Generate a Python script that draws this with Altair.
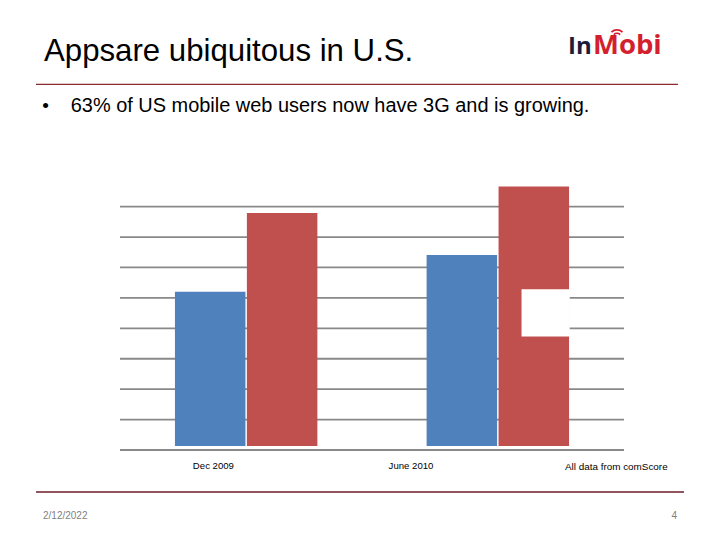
import altair as alt
import pandas as pd

# ---- text content ----
title_text = "Appsare ubiquitous in U.S."
bullet_char = "\u2022"
bullet_text = "63% of US mobile web users now have 3G and is growing."
logo_left = "In"
logo_right = "Mobi"
source_note = "All data from comScore"
footer_date = "2/12/2022"
page_number = "4"

# ---- chart data (gridline units) ----
periods = ["Dec 2009", "June 2010"]
series = ["Series 1", "Series 2"]
series1_values = [5.20, 6.41]
series2_values = [7.79, 8.66]
gridline_values = [1, 2, 3, 4, 5, 6, 7, 8]
baseline_value = [0]
# white box that hides part of the June 2010 red bar
overlay_period = ["June 2010"]
overlay_low = [3.73]
overlay_high = [5.28]
period_labels = ["Dec 2009", "June 2010"]

BLUE = "#4F81BD"
RED = "#C0504D"
GRID = "#898989"
FONT = "Liberation Sans, Arial, sans-serif"

bars_df = pd.DataFrame({
    "period": periods * 2,
    "series": [series[0]] * 2 + [series[1]] * 2,
    "value": series1_values + series2_values,
})
grid_df = pd.DataFrame({"v": gridline_values})
base_df = pd.DataFrame({"v": baseline_value})
overlay_df = pd.DataFrame({
    "period": overlay_period,
    "lo": overlay_low,
    "hi": overlay_high,
})

xscale = alt.Scale(domain=periods, range=[112, 616], paddingInner=0.434, paddingOuter=0.2183)
xoff_scale = alt.Scale(domain=series, paddingInner=0.02, paddingOuter=0)
yscale = alt.Scale(domain=[0, 8], range=[442, 198.6], nice=False, zero=True)

X = alt.X("period:N", scale=xscale, axis=None)
XO = alt.XOffset("series:N", scale=xoff_scale)

grid = alt.Chart(grid_df).mark_rule(color=GRID, strokeWidth=1.8).encode(
    x=alt.value(112), x2=alt.value(616),
    y=alt.Y("v:Q", scale=yscale, axis=None),
)

bars = alt.Chart(bars_df).mark_bar().encode(
    x=X, xOffset=XO,
    y=alt.Y("value:Q", scale=yscale, axis=None),
    color=alt.Color("series:N", scale=alt.Scale(domain=series, range=[BLUE, RED]), legend=None),
)

overlay = alt.Chart(overlay_df).mark_bar(color="white", width=48.2, xOffset=47.8).encode(
    x=X,
    y=alt.Y("lo:Q", scale=yscale, axis=None),
    y2="hi:Q",
)

base_gap = alt.Chart(base_df).mark_rule(color="white", strokeWidth=8).encode(
    x=alt.value(112), x2=alt.value(616),
    y=alt.Y("v:Q", scale=yscale, axis=None),
)
base_line = alt.Chart(base_df).mark_rule(color=GRID, strokeWidth=1.8).encode(
    x=alt.value(112), x2=alt.value(616),
    y=alt.Y("v:Q", scale=yscale, axis=None),
)


def text_layer(value, x, y, size, color="black", align="left", weight="normal", font=FONT):
    df = pd.DataFrame({"t": [value]})
    return alt.Chart(df).mark_text(
        align=align, baseline="alphabetic", font=font, fontSize=size,
        color=color, fontWeight=weight,
    ).encode(x=alt.value(x), y=alt.value(y), text="t:N")


title = text_layer(title_text, 36, 53, 31.2)
title_rule = alt.Chart(pd.DataFrame({"t": [0]})).mark_rule(color="#8C2B2B", strokeWidth=1.2).encode(
    x=alt.value(28), x2=alt.value(670), y=alt.value(76.3))
bullet = text_layer(bullet_char, 37.7, 104, 19, align="center")
bullet_line = text_layer(bullet_text, 62.7, 104, 19.95)

logo1 = text_layer(logo_left, 560, 46.3, 24, color="#1C1D3A", weight="bold", font="Open Sans")
logo2 = text_layer(logo_right, 585, 46.3, 27.5, color="#D41F2E", weight="bold", font="Open Sans")
arc_df = pd.DataFrame({"t": [0]})
wifi1 = alt.Chart(arc_df).mark_arc(color="#D41F2E").encode(
    x=alt.value(609), y=alt.value(30), theta=alt.value(5.53), theta2=alt.value(7.03),
    radius=alt.value(5.5), radius2=alt.value(3.8))
wifi2 = alt.Chart(arc_df).mark_arc(color="#D41F2E").encode(
    x=alt.value(609), y=alt.value(30), theta=alt.value(5.53), theta2=alt.value(7.03),
    radius=alt.value(9), radius2=alt.value(7.3))

lab1 = text_layer(period_labels[0], 205.4, 460.5, 9.6, align="center")
lab2 = text_layer(period_labels[1], 403, 460.5, 9.6, align="center")
note = text_layer(source_note, 557, 461.5, 9.9)

footer_rule = alt.Chart(pd.DataFrame({"t": [0]})).mark_rule(color="#6E1C28", strokeWidth=1.5).encode(
    x=alt.value(28), x2=alt.value(676), y=alt.value(484))
date = text_layer(footer_date, 35, 510.5, 10, color="#7F7F7F")
page = text_layer(page_number, 669, 510.5, 10, color="#7F7F7F", align="right")

chart = alt.layer(
    grid, bars, overlay, base_gap, base_line,
    title, title_rule, bullet, bullet_line,
    logo1, logo2, wifi1, wifi2,
    lab1, lab2, note, footer_rule, date, page,
).properties(
    width=704, height=524,
    autosize=alt.AutoSizeParams(type="none"),
    padding=0,
    background="white",
).configure_view(stroke="transparent")

chart.save("out.html", embed_options={"renderer": "svg", "actions": False})
